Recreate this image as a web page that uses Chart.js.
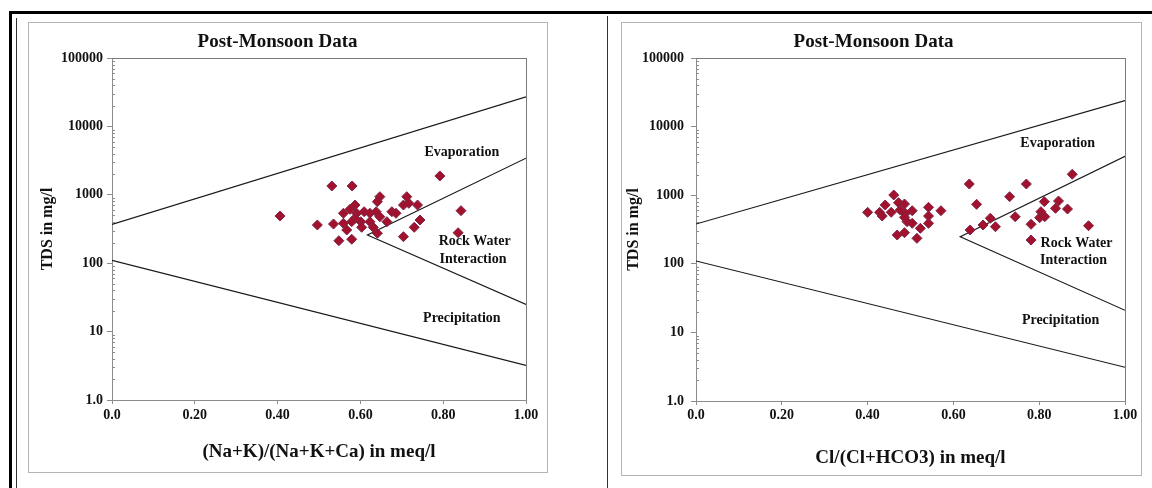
<!DOCTYPE html>
<html><head><meta charset="utf-8">
<script src="https://cdn.jsdelivr.net/npm/chart.js@4.4.0/dist/chart.umd.min.js"></script>
<style>
html,body{margin:0;padding:0;background:#fff;width:1152px;height:488px;overflow:hidden;position:relative;}
.ln{position:absolute;background:#000;}
.box{position:absolute;border:1px solid #b4b4b4;box-sizing:border-box;}
canvas{position:absolute;}
</style></head><body>
<div class="ln" style="left:9px;top:11px;width:1143px;height:3px"></div>
<div class="ln" style="left:9px;top:11px;width:3px;height:477px"></div>
<div class="ln" style="left:16px;top:18px;width:1px;height:470px;background:#333"></div>
<div class="ln" style="left:607px;top:16px;width:1px;height:472px;background:#333"></div>
<div class="box" style="left:28px;top:22px;width:520px;height:451px"></div>
<div class="box" style="left:621px;top:22px;width:521px;height:454px"></div>
<canvas id="c1" width="518" height="449" style="left:29px;top:23px;width:518px;height:449px"></canvas>
<canvas id="c2" width="519" height="452" style="left:622px;top:23px;width:519px;height:452px"></canvas>
<script>
// ---- tick labels ----
const xTickValues = [0, 0.2, 0.4, 0.6, 0.8, 1.0];
const xTickLabels = ['0.0', '0.20', '0.40', '0.60', '0.80', '1.00'];
const yTickValues = [1, 10, 100, 1000, 10000, 100000];
const yTickLabels = ['1.0', '10', '100', '1000', '10000', '100000'];

// ---- left chart: (Na+K)/(Na+K+Ca) vs TDS ----
const naRatio = [0.406,0.531,0.580,0.647,0.641,0.587,0.575,0.559,0.591,0.609,0.623,0.638,0.647,0.676,0.686,0.587,0.579,0.559,0.601,0.623,0.664,0.496,0.535,0.567,0.603,0.631,0.641,0.548,0.579,0.792,0.712,0.704,0.717,0.738,0.843,0.744,0.730,0.704,0.836];
const naTDS   = [490,1345,1345,938,793,709,614,537,537,566,537,566,478,566,537,453,404,383,404,404,404,362,374,306,335,335,274,213,224,1884,938,709,751,709,586,428,335,244,279];
const naUpperX = [0, 1],          naUpperY = [370, 27000];
const naLowerX = [0, 1],          naLowerY = [110, 3.2];
const naWedgeX = [1, 0.617, 1],   naWedgeY = [3430, 258, 25];

// ---- right chart: Cl/(Cl+HCO3) vs TDS ----
const clRatio = [0.461,0.441,0.472,0.486,0.400,0.428,0.434,0.455,0.476,0.488,0.504,0.486,0.542,0.542,0.571,0.492,0.504,0.542,0.523,0.469,0.486,0.515,0.637,0.770,0.877,0.654,0.731,0.812,0.845,0.838,0.866,0.804,0.801,0.813,0.744,0.686,0.698,0.669,0.639,0.781,0.915,0.781];
const clTDS   = [1007,720,778,744,563,563,497,563,609,545,594,476,666,497,594,411,389,389,329,263,284,235,1456,1456,2018,736,951,804,823,644,629,575,470,486,486,461,347,368,311,377,359,222];
const clUpperX = [0, 1],          clUpperY = [380, 24000];
const clLowerX = [0, 1],          clLowerY = [110, 3.1];
const clWedgeX = [1, 0.616, 1],   clWedgeY = [3700, 248, 21];

// ---- region labels ----
const regionNames = ['Evaporation', 'Rock Water', 'Interaction', 'Precipitation'];
const naLabelX = [0.845, 0.876, 0.872, 0.845], naLabelY = [4200, 211, 113, 15.8];
const clLabelX = [0.843, 0.887, 0.880, 0.850], clLabelY = [5770, 199, 114, 15.2];

const FONT = "'Liberation Serif','Times New Roman',serif";

function pts(xs, ys) { return xs.map((x, i) => ({x: x, y: ys[i]})); }

const decor = {
  id: 'decor',
  beforeDatasetsDraw(chart) {
    const {ctx, chartArea: a, scales: {y}} = chart;
    ctx.save();
    ctx.strokeStyle = '#7a7a7a';
    ctx.lineWidth = 1;
    ctx.beginPath();
    ctx.moveTo(a.left, Math.round(a.top) + 0.5);
    ctx.lineTo(a.right, Math.round(a.top) + 0.5);
    ctx.moveTo(Math.round(a.right) + 0.5, a.top);
    ctx.lineTo(Math.round(a.right) + 0.5, a.bottom);
    ctx.stroke();
    ctx.strokeStyle = '#8c8c8c';
    ctx.beginPath();
    for (let k = 0; k < 5; k++) {
      for (let m = 2; m < 10; m++) {
        const py = Math.round(y.getPixelForValue(m * Math.pow(10, k))) + 0.5;
        ctx.moveTo(a.left, py);
        ctx.lineTo(a.left + 3, py);
      }
    }
    ctx.stroke();
    ctx.restore();
  },
  afterDatasetsDraw(chart, args, opts) {
    const {ctx, scales: {x, y}} = chart;
    ctx.save();
    ctx.fillStyle = '#111';
    ctx.font = 'bold 14px ' + FONT;
    ctx.textAlign = 'center';
    ctx.textBaseline = 'middle';
    regionNames.forEach((t, i) => {
      ctx.fillText(t, x.getPixelForValue(opts.lx[i]), y.getPixelForValue(opts.ly[i]));
    });
    ctx.restore();
  }
};

function makeChart(id, c) {
  const lineDs = (xs, ys) => ({
    type: 'scatter', data: pts(xs, ys), showLine: true, borderColor: '#1a1a1a',
    borderWidth: 1.2, pointRadius: 0, fill: false, tension: 0, order: 2
  });
  return new Chart(document.getElementById(id), {
    type: 'scatter',
    data: {
      datasets: [
        { data: pts(c.rx, c.ry), pointStyle: 'rectRot', pointRadius: 5, pointHoverRadius: 5,
          backgroundColor: '#a3122c', borderColor: '#7d2448', borderWidth: 1, order: 0 },
        lineDs(c.ux, c.uy), lineDs(c.lx, c.ly), lineDs(c.wx, c.wy)
      ]
    },
    options: {
      responsive: false, animation: false, devicePixelRatio: 1,
      layout: { padding: { left: 0, right: c.padRight, top: 0, bottom: 0 } },
      plugins: {
        legend: { display: false }, tooltip: { enabled: false },
        title: { display: true, text: 'Post-Monsoon Data', color: '#111',
          font: { family: FONT, size: 19, weight: 'bold', lineHeight: 1.2 },
          padding: { top: 8, bottom: 4.2 } },
        decor: { lx: c.labX, ly: c.labY }
      },
      scales: {
        x: {
          type: 'linear', min: 0, max: 1,
          afterBuildTicks: s => { s.ticks = xTickValues.map(v => ({value: v})); },
          afterFit: s => { s.height = c.xAxisH; },
          ticks: { callback: v => xTickLabels[xTickValues.indexOf(v)], color: '#111',
            font: { family: FONT, size: 14, weight: 'bold' }, padding: c.xPad, maxRotation: 0, autoSkip: false },
          grid: { drawOnChartArea: false, drawTicks: true, tickLength: 4, color: '#8c8c8c' },
          border: { color: '#8c8c8c', width: 1 },
          title: { display: true, text: c.xTitle, color: '#111',
            font: { family: FONT, size: 19, weight: 'bold', lineHeight: 1.2 },
            padding: { top: 0, bottom: c.xTitlePad } }
        },
        y: {
          type: 'logarithmic', min: 1, max: 100000,
          afterBuildTicks: s => { s.ticks = yTickValues.map(v => ({value: v})); },
          afterFit: s => { s.width = c.yAxisW; },
          ticks: { callback: v => yTickLabels[yTickValues.indexOf(v)], color: '#111',
            font: { family: FONT, size: 14, weight: 'bold' }, padding: c.yPad, autoSkip: false },
          grid: { drawOnChartArea: false, drawTicks: true, tickLength: 5, color: '#8c8c8c' },
          border: { color: '#8c8c8c', width: 1 },
          title: { display: true, text: 'TDS in mg/l', color: '#111',
            font: { family: FONT, size: 16, weight: 'bold', lineHeight: 1.2 },
            padding: { top: c.yTitlePad, bottom: 0 } }
        }
      }
    },
    plugins: [decor]
  });
}

makeChart('c1', {
  rx: naRatio, ry: naTDS, ux: naUpperX, uy: naUpperY, lx: naLowerX, ly: naLowerY,
  wx: naWedgeX, wy: naWedgeY, labX: naLabelX, labY: naLabelY,
  xTitle: '(Na+K)/(Na+K+Ca) in meq/l', padRight: 21, xAxisH: 72, yAxisW: 83,
  xPad: 3, yPad: 4, xTitlePad: 8.6, yTitlePad: 9.4
});
makeChart('c2', {
  rx: clRatio, ry: clTDS, ux: clUpperX, uy: clUpperY, lx: clLowerX, ly: clLowerY,
  wx: clWedgeX, wy: clWedgeY, labX: clLabelX, labY: clLabelY,
  xTitle: 'Cl/(Cl+HCO3) in meq/l', padRight: 16, xAxisH: 74, yAxisW: 74,
  xPad: 2, yPad: 7, xTitlePad: 5.6, yTitlePad: 2.4
});
</script>
</body></html>
